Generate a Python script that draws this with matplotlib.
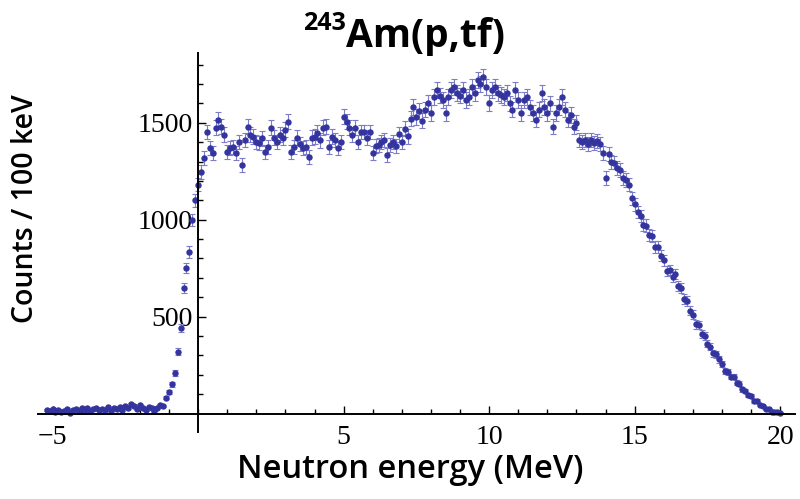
import matplotlib
matplotlib.use("Agg")
import matplotlib.pyplot as plt
import numpy as np

# neutron energy bins, 100 keV wide, from -5.2 to 20.0 MeV
energy = np.arange(-52, 201) / 10.0

# counts per 100 keV bin, ten bins per row
counts = [
    18, 12, 25, 10, 20, 8, 15, 22, 5, 18,
    25, 15, 30, 20, 28, 12, 22, 30, 18, 25,
    20, 32, 15, 28, 22, 35, 18, 40, 30, 48,
    38, 25, 42, 30, 20, 35, 28, 15, 30, 45,
    40, 82, 113, 150, 210, 320, 442, 648, 750, 833,
    1000, 1100, 1180, 1247, 1320, 1453, 1371, 1345, 1474, 1515,
    1479, 1438, 1350, 1371, 1376, 1345, 1402, 1283, 1412, 1479,
    1438, 1428, 1402, 1397, 1420, 1350, 1376, 1474, 1423, 1402,
    1438, 1423, 1464, 1505, 1350, 1376, 1423, 1390, 1371, 1376,
    1324, 1423, 1428, 1448, 1410, 1474, 1479, 1376, 1428, 1412,
    1371, 1400, 1531, 1505, 1474, 1438, 1474, 1402, 1453, 1453,
    1423, 1453, 1345, 1380, 1386, 1402, 1412, 1335, 1386, 1402,
    1380, 1440, 1400, 1470, 1430, 1520, 1582, 1530, 1560, 1510,
    1567, 1603, 1551, 1634, 1670, 1640, 1618, 1551, 1634, 1670,
    1686, 1655, 1640, 1670, 1618, 1634, 1686, 1655, 1722, 1700,
    1737, 1686, 1603, 1670, 1686, 1655, 1644, 1634, 1655, 1600,
    1567, 1670, 1618, 1551, 1618, 1634, 1580, 1551, 1515, 1567,
    1655, 1582, 1551, 1600, 1479, 1551, 1582, 1634, 1567, 1515,
    1540, 1479, 1500, 1412, 1400, 1412, 1390, 1412, 1397, 1405,
    1390, 1345, 1216, 1340, 1300, 1295, 1265, 1255, 1215, 1205,
    1180, 1110, 1080, 1040, 1020, 975, 970, 920, 915, 860,
    860, 815, 790, 735, 740, 705, 720, 660, 650, 590,
    580, 530, 510, 460, 455, 410, 400, 360, 345, 310,
    305, 280, 255, 220, 215, 190, 190, 160, 155, 125,
    115, 95, 90, 65, 65, 45, 40, 25, 22, 10,
    10, 6, 4,
]
counts = np.array(counts, dtype=float)
errors = np.sqrt(counts)  # Poisson errors

x_major = [-5, 5, 10, 15, 20]
y_major = [500, 1000, 1500]

fig = plt.figure(figsize=(8, 4.99), dpi=100)
ax = fig.add_axes([0.0475, 0.1343, 0.946, 0.7595])

ax.errorbar(energy, counts, yerr=errors, fmt='o', ms=3.6, color='#34349f',
            ecolor='#7c7cc8', elinewidth=0.8, capsize=2.5, capthick=0.8)

ax.set_xlim(-5.5, 20.5)
ax.set_ylim(-95, 1860)

# axes crossing at the origin
for side in ['top', 'right']:
    ax.spines[side].set_visible(False)
ax.spines['left'].set_position(('data', 0))
ax.spines['bottom'].set_position(('data', 0))
ax.spines['left'].set_linewidth(1.4)
ax.spines['bottom'].set_linewidth(1.4)

ax.set_xticks(x_major)
ax.set_xticks(np.arange(-5, 21), minor=True)
ax.set_yticks(y_major)
ax.set_yticks(np.arange(100, 1900, 100), minor=True)
ax.set_xticklabels(['\u2212' + str(-v) if v < 0 else str(v) for v in x_major])
ax.tick_params(which='both', direction='in', width=1.0, labelsize=20,
               labelfontfamily='Liberation Serif')
ax.tick_params(which='major', length=6)
ax.tick_params(which='minor', length=3.5)
ax.tick_params(axis='x', pad=8)
ax.tick_params(axis='y', pad=4)

fig.text(26 / 800, 1 - 209 / 499, 'Counts / 100 keV', rotation=90,
         ha='center', va='center', fontsize=20.5, fontweight='semibold',
         family='Open Sans')
fig.text(410 / 800, 1 - 470 / 499, 'Neutron energy (MeV)',
         ha='center', va='center', fontsize=23.5, fontweight='semibold',
         family='Open Sans')

# title: superscript mass number, then the reaction
fig.text(346 / 800, 1 - 47 / 499, 'Am(p,tf)', ha='left', va='baseline',
         fontsize=28, fontweight='bold', family='Open Sans')
fig.text(346 / 800, 1 - 30 / 499, '243', ha='right', va='baseline',
         fontsize=18, fontweight='bold', family='Open Sans')

fig.savefig('out.png', dpi=100)
